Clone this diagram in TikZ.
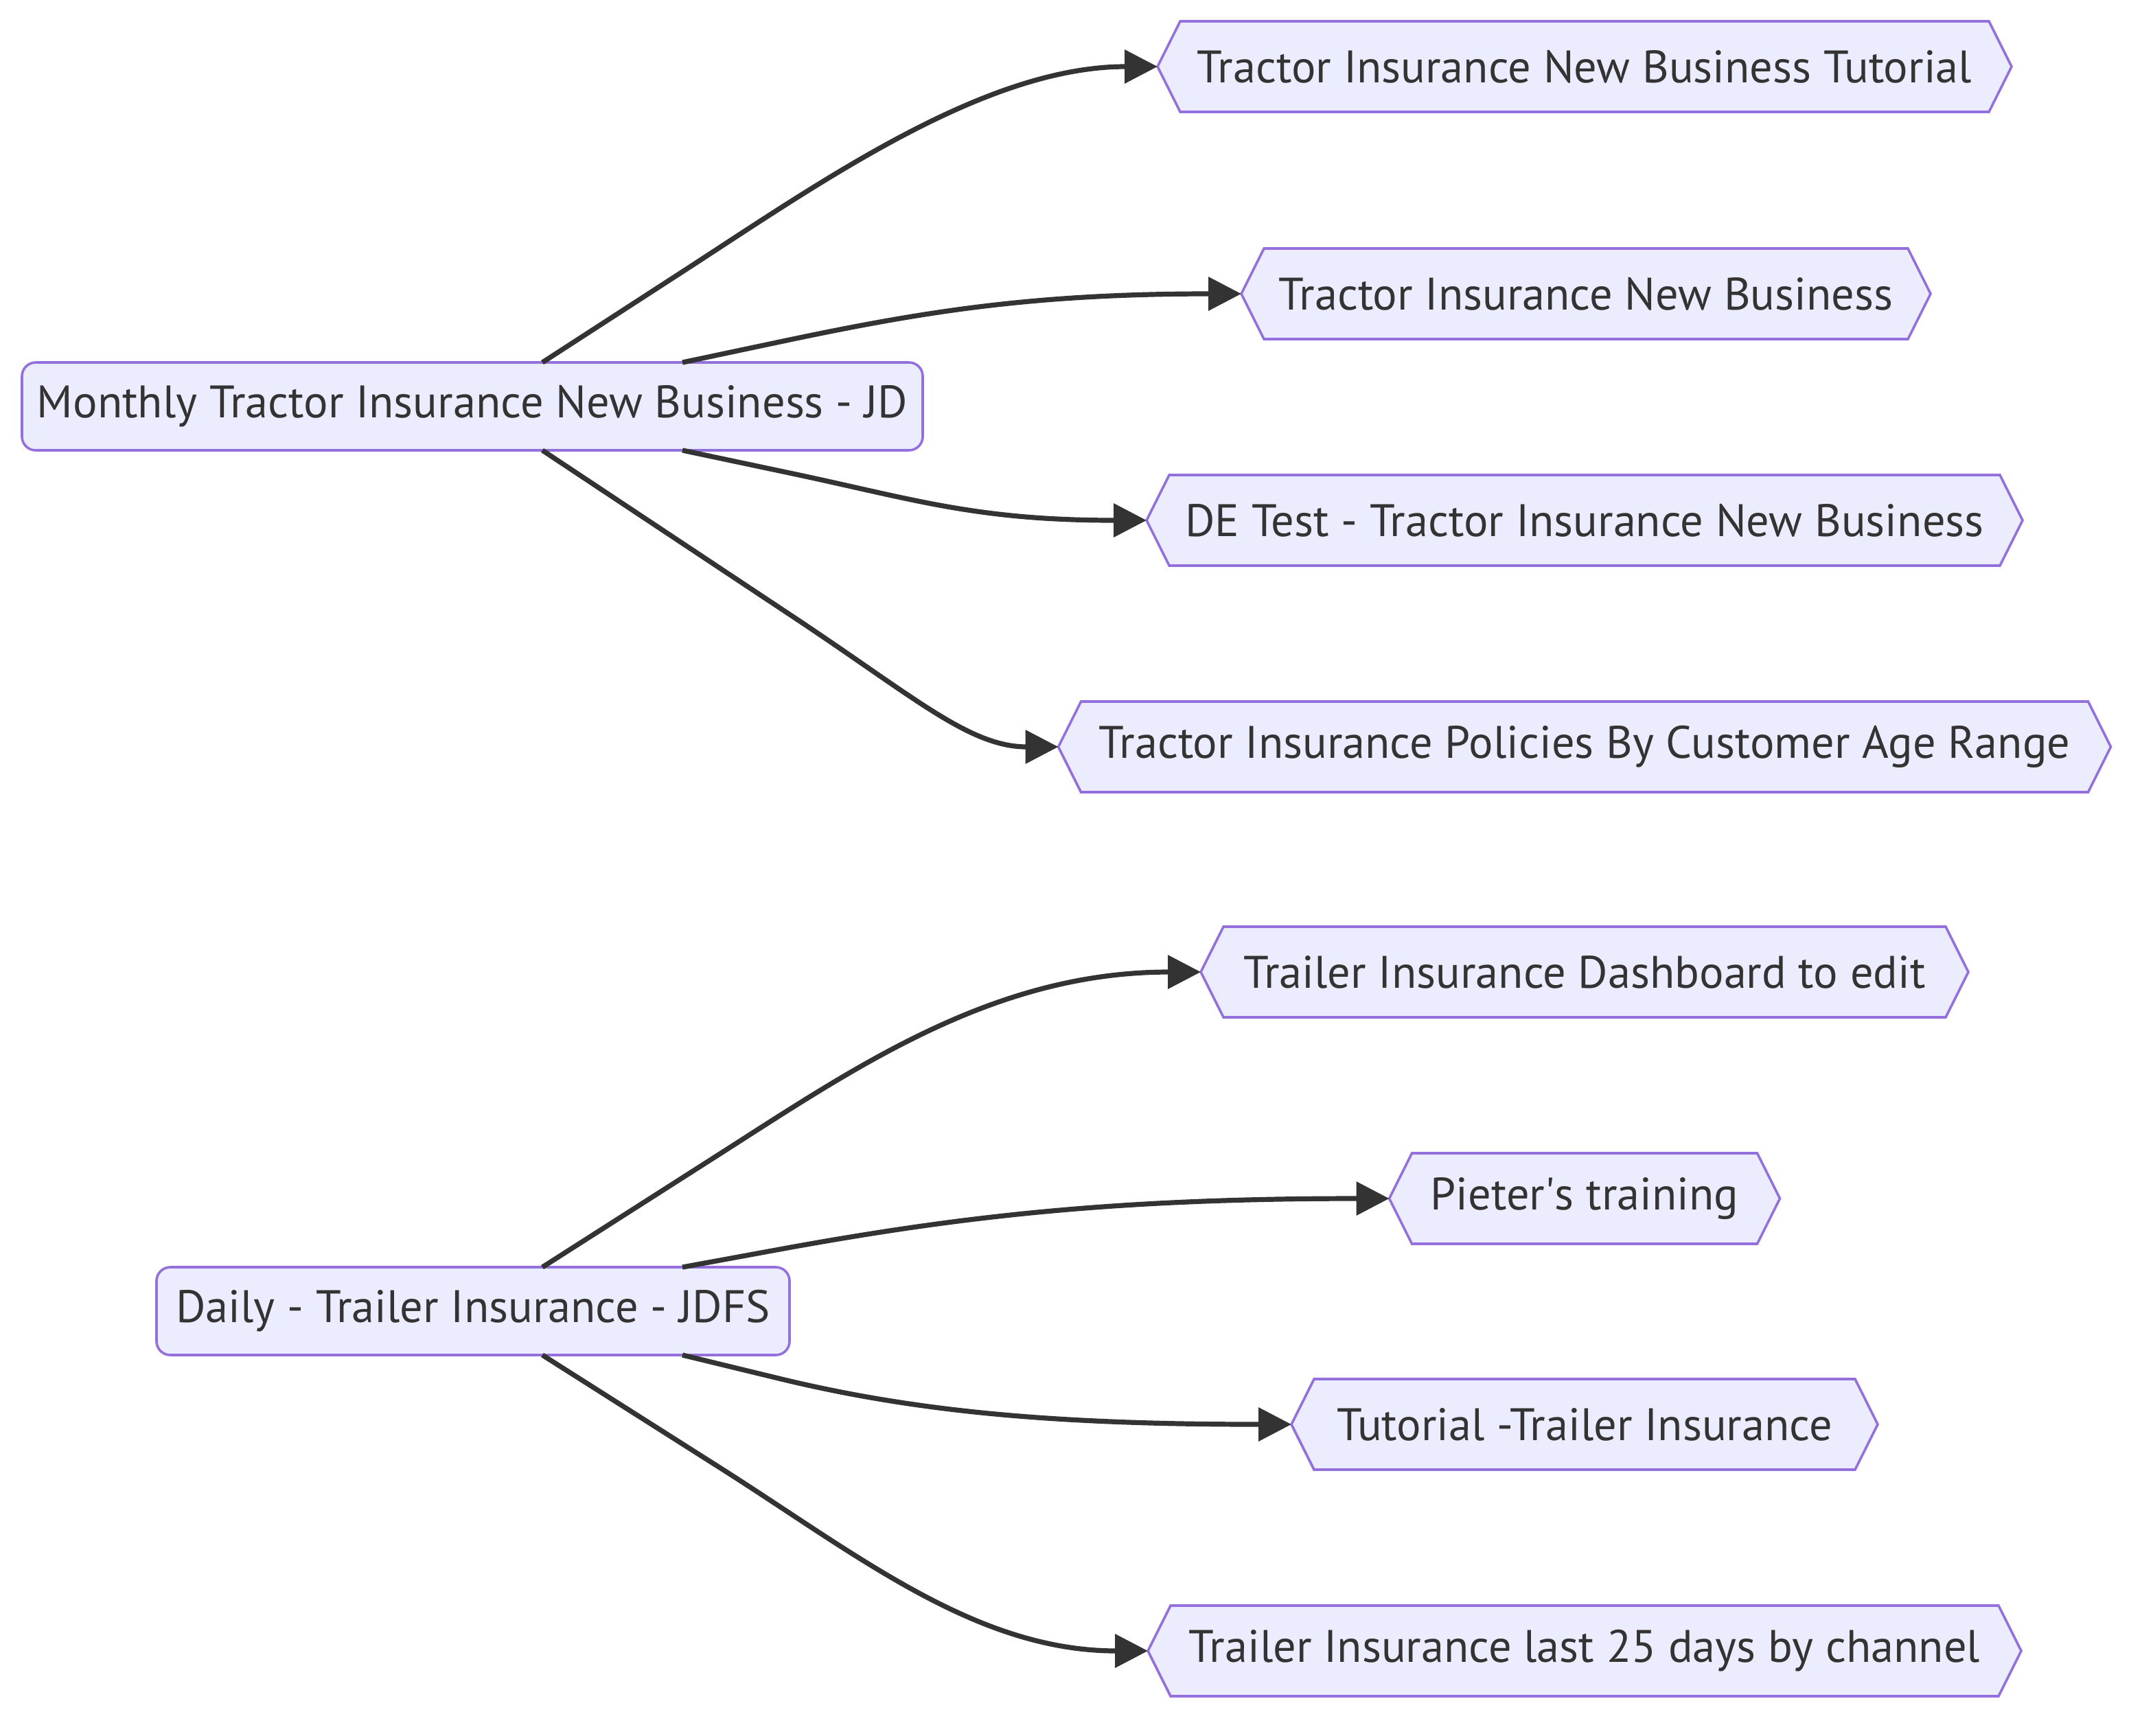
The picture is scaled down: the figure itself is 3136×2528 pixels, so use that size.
\documentclass[tikz,border=0pt]{standalone}
\usepackage{fontspec}
\setmainfont{PT Sans}
\usetikzlibrary{calc,arrows.meta,backgrounds}
\definecolor{nodefill}{HTML}{ECECFF}
\definecolor{nodeline}{HTML}{9370DB}
\definecolor{ink}{HTML}{333333}
\tikzset{
  srcbox/.style={draw=nodeline, fill=nodefill, line width=0.9pt, rounded corners=5pt,
    minimum height=32pt, inner sep=0pt, outer sep=0pt, text=ink,
    font=\fontsize{16.6}{20}\selectfont},
  hexnode/.style={minimum height=33pt, inner sep=0pt, outer sep=0pt, text=ink,
    font=\fontsize{16.6}{20}\selectfont},
  hexb/.style={draw=nodeline, fill=nodefill, line width=0.9pt},
  edge/.style={draw=ink, line width=1.8pt, -{Triangle[length=12pt,width=12pt]}}
}
\begin{document}
\begin{tikzpicture}[x=0.25pt, y=-0.25pt]
\useasboundingbox (0,0) rectangle (3136,2528);
% source nodes
\node[srcbox, minimum width=328pt] (m1) at (688,592) {Monthly Tractor Insurance New Business - JD};
\node[srcbox, minimum width=230.5pt] (m2) at (689,1910) {Daily - Trailer Insurance - JDFS};
% target nodes
\node[hexnode, minimum width=311pt]    (t1) at (2308,97)   {Tractor Insurance New Business Tutorial};
\node[hexnode, minimum width=251pt]    (t2) at (2310,428)  {Tractor Insurance New Business};
\node[hexnode, minimum width=319pt]    (t3) at (2308,758)  {DE Test - Tractor Insurance New Business};
\node[hexnode, minimum width=383.25pt] (t4) at (2308,1088) {Tractor Insurance Policies By Customer Age Range};
\node[hexnode, minimum width=279.5pt]  (t5) at (2308,1416) {Trailer Insurance Dashboard to edit};
\node[hexnode, minimum width=142.25pt] (t6) at (2308,1746) {Pieter\textquotesingle s training};
\node[hexnode, minimum width=213.5pt]  (t7) at (2308,2075) {Tutorial -Trailer Insurance};
\node[hexnode, minimum width=318pt]    (t8) at (2308,2405) {Trailer Insurance last 25 days by channel};
\begin{scope}[on background layer]
\foreach \n in {t1,t2,t3,t4,t5,t6,t7,t8}{
  \draw[hexb] (\n.west) -- ($(\n.north west)+(33,0)$) -- ($(\n.north east)+(-33,0)$) -- (\n.east)
    -- ($(\n.south east)+(-33,0)$) -- ($(\n.south west)+(33,0)$) -- cycle;
}
\end{scope}
% edges, upper group
\draw[edge] ($(m1.north)+(102,0)$) -- ++(210,-136) .. controls +(200,-130) and +(-250,0) .. (t1.west);
\draw[edge] ($(m1.north)+(306,0)$) -- ++(156,-33) .. controls +(200,-42) and +(-300,0) .. (t2.west);
\draw[edge] ($(m1.south)+(306,0)$) -- ++(156,33) .. controls +(180,38) and +(-250,0) .. (t3.west);
\draw[edge] ($(m1.south)+(102,0)$) -- ++(360,239) .. controls +(180,119) and +(-130,0) .. (t4.west);
% edges, lower group
\draw[edge] ($(m2.north)+(101,0)$) -- ++(260,-166) .. controls +(200,-128) and +(-300,0) .. (t5.west);
\draw[edge] ($(m2.north)+(305,0)$) -- ++(158,-29) .. controls +(250,-45) and +(-400,0) .. (t6.west);
\draw[edge] ($(m2.south)+(305,0)$) -- ++(136,33) .. controls +(200,49) and +(-350,0) .. (t7.west);
\draw[edge] ($(m2.south)+(101,0)$) -- ++(260,165) .. controls +(200,127) and +(-250,0) .. (t8.west);
\end{tikzpicture}
\end{document}
